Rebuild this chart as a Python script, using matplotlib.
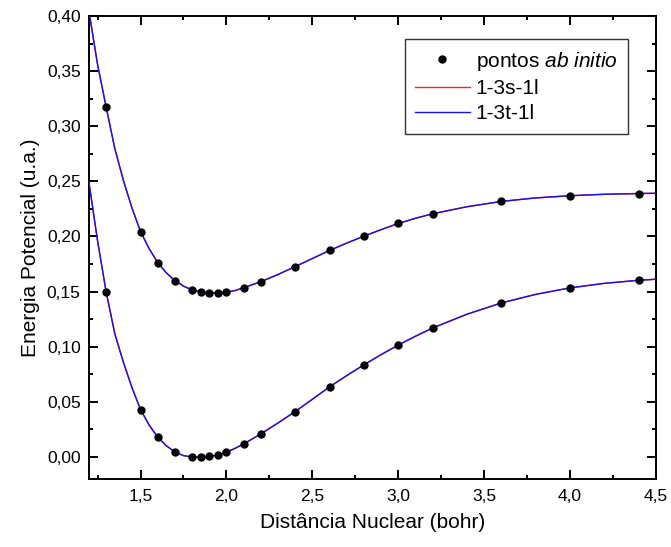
import matplotlib
matplotlib.use("Agg")
import matplotlib.pyplot as plt
from matplotlib.ticker import MultipleLocator, FuncFormatter

plt.rcParams['font.family'] = ['Liberation Sans', 'DejaVu Sans']
plt.rcParams['mathtext.fontset'] = 'custom'
plt.rcParams['mathtext.rm'] = 'Liberation Sans'
plt.rcParams['mathtext.it'] = 'Liberation Sans:italic'

# ab initio points (bohr, u.a.)
r_pts = [1.3, 1.5, 1.6, 1.7, 1.8, 1.85, 1.9, 1.95, 2.0, 2.1, 2.2, 2.4, 2.6, 2.8, 3.0, 3.2, 3.6, 4.0, 4.4]
upper_pts = [0.3173, 0.2045, 0.1764, 0.1600, 0.1515, 0.1494, 0.1485, 0.1486, 0.1494, 0.1536, 0.1590,
             0.1727, 0.1873, 0.2003, 0.2118, 0.2206, 0.2318, 0.2370, 0.2388]
lower_pts = [0.1497, 0.0430, 0.0179, 0.0045, 0.0000, 0.0000, 0.0005, 0.0018, 0.0043, 0.0118, 0.0209,
             0.0412, 0.0636, 0.0836, 0.1015, 0.1170, 0.1397, 0.1534, 0.1603]

# fitted curves
r_fit = [1.2, 1.25, 1.3, 1.35, 1.4, 1.45, 1.5, 1.55, 1.6, 1.65, 1.7, 1.75, 1.8, 1.85, 1.9, 1.95, 2.0,
         2.05, 2.1, 2.2, 2.3, 2.4, 2.5, 2.6, 2.7, 2.8, 2.9, 3.0, 3.1, 3.2, 3.4, 3.6, 3.8, 4.0, 4.2, 4.4, 4.5]
upper_fit = [0.404, 0.356, 0.3173, 0.280, 0.251, 0.226, 0.2045, 0.189, 0.1764, 0.167, 0.160, 0.155,
             0.1515, 0.1497, 0.1488, 0.1488, 0.1494, 0.1510, 0.1535, 0.1590, 0.1655, 0.1727, 0.1800,
             0.1873, 0.1940, 0.2003, 0.2062, 0.2118, 0.2165, 0.2206, 0.2270, 0.2318, 0.2350, 0.2370,
             0.2383, 0.2390, 0.2392]
lower_fit = [0.249, 0.196, 0.1497, 0.112, 0.086, 0.063, 0.043, 0.029, 0.0179, 0.0102, 0.0045, 0.0012,
             0.0, -0.0002, 0.0005, 0.0018, 0.0043, 0.0078, 0.0118, 0.0209, 0.0308, 0.0412, 0.0523,
             0.0636, 0.0738, 0.0836, 0.0928, 0.1015, 0.1095, 0.1170, 0.1295, 0.1397, 0.1475, 0.1534,
             0.1575, 0.1603, 0.1612]

fig = plt.figure(figsize=(6.71, 5.47), dpi=100)
ax = fig.add_axes([0.1326, 0.1243, 0.845, 0.8464])

for yv in (upper_fit, lower_fit):
    ax.plot(r_fit, yv, color="#ff2020", lw=1.0, zorder=2)
for yv in (upper_fit, lower_fit):
    ax.plot(r_fit, yv, color="#1010ff", lw=1.0, zorder=3)
ax.plot(r_pts, upper_pts, "o", color="black", ms=5, zorder=4)
ax.plot(r_pts, lower_pts, "o", color="black", ms=5, zorder=4)

ax.set_xlim(1.2, 4.5)
ax.set_ylim(-0.02, 0.40)
ax.xaxis.set_major_locator(MultipleLocator(0.5))
ax.xaxis.set_minor_locator(MultipleLocator(0.25))
ax.yaxis.set_major_locator(MultipleLocator(0.05))
ax.yaxis.set_minor_locator(MultipleLocator(0.025))
ax.xaxis.set_major_formatter(FuncFormatter(lambda v, p: f"{v:.1f}".replace(".", ",")))
ax.yaxis.set_major_formatter(FuncFormatter(lambda v, p: f"{v:.2f}".replace(".", ",")))
ax.tick_params(which="both", direction="in", top=True, right=True, width=1.4, labelsize=12.5)
ax.tick_params(which="major", length=6.5, pad=7)
ax.tick_params(which="minor", length=3)
ax.tick_params(axis="y", which="major", pad=6)
for s in ax.spines.values():
    s.set_linewidth(1.4)

ax.set_xlabel("Distância Nuclear (bohr)", fontsize=15, labelpad=7)
ax.set_ylabel("Energia Potencial (u.a.)", fontsize=15, labelpad=5)

h_pts, = ax.plot([], [], "o", color="black", ms=5)
h_s, = ax.plot([], [], color="#ff2020", lw=1.0)
h_t, = ax.plot([], [], color="#1010ff", lw=1.0)
leg = ax.legend([h_pts, h_s, h_t], [r"pontos $\mathit{ab\ initio}$", "1-3s-1l", "1-3t-1l"],
                loc="upper right", bbox_to_anchor=(0.9506, 0.950), fontsize=15, frameon=True,
                fancybox=False, edgecolor="black", handlelength=2.6, handletextpad=0.3,
                borderpad=0.5, labelspacing=0.3, borderaxespad=0)
leg.get_frame().set_linewidth(1.0)

plt.savefig("out.png", dpi=100, facecolor="white")
